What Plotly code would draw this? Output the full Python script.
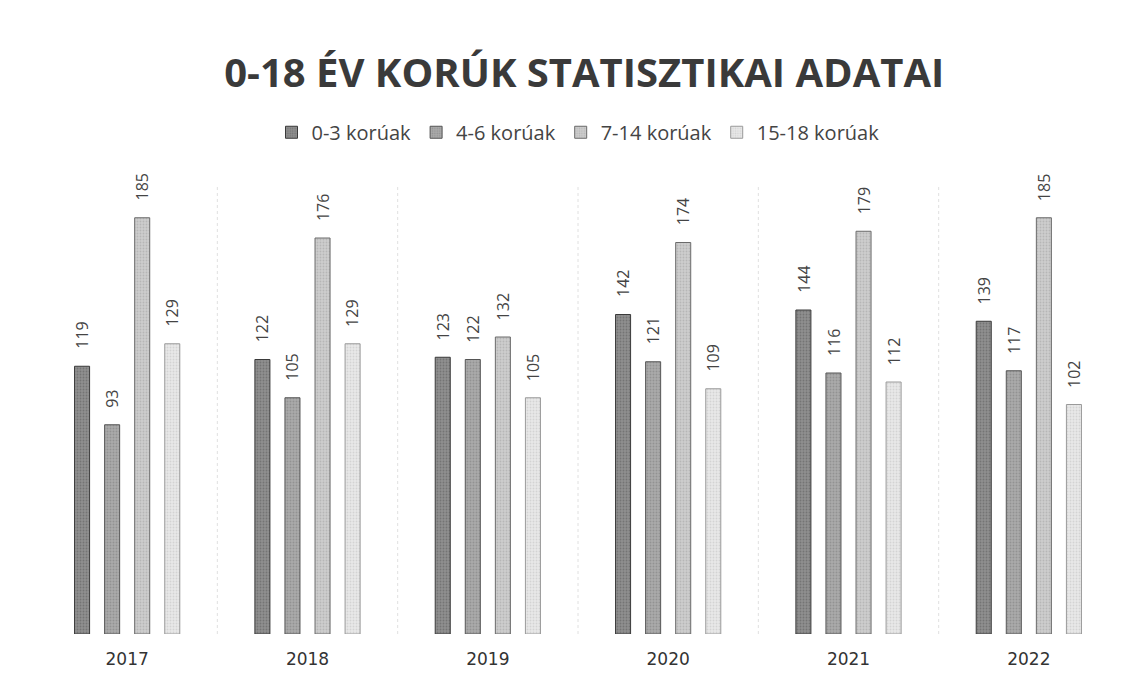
import plotly.graph_objects as go

years = ["2017", "2018", "2019", "2020", "2021", "2022"]
series_names = ["0-3 korúak", "4-6 korúak", "7-14 korúak", "15-18 korúak"]
v_0_3 = [119, 122, 123, 142, 144, 139]
v_4_6 = [93, 105, 122, 121, 116, 117]
v_7_14 = [185, 176, 132, 174, 179, 185]
v_15_18 = [129, 129, 105, 109, 112, 102]

values = [v_0_3, v_4_6, v_7_14, v_15_18]
fills = ["#8f8f8f", "#aaaaaa", "#cdcdcd", "#e8e8e8"]
lines = ["#3a3a3a", "#555555", "#6a6a6a", "#9a9a9a"]
pat_fg = ["#5a5a5a", "#7a7a7a", "#a0a0a0", "#bdbdbd"]

slot_px = 30.1  # horizontal spacing between bars within a group

fig = go.Figure()
for k, (name, vals, fc, lc, pf) in enumerate(zip(series_names, values, fills, lines, pat_fg)):
    fig.add_trace(go.Bar(
        name=name, x=years, y=vals,
        marker=dict(color=fc, line=dict(color=lc, width=1),
                    pattern=dict(shape=".", fgcolor=pf, bgcolor=fc, size=3, solidity=0.3)),
    ))
    for idx, v in enumerate(vals):
        fig.add_annotation(x=idx, y=v, text=str(v), showarrow=False, textangle=-90,
                           xanchor="center", yanchor="bottom",
                           xshift=(k - 1.5) * slot_px, yshift=15,
                           font=dict(family="Open Sans", size=16, color="#444444"))

for i in range(1, len(years)):
    fig.add_shape(type="line", xref="x", yref="paper", x0=i - 0.5, x1=i - 0.5, y0=0, y1=1,
                  line=dict(color="#e0e0e0", width=1, dash="dot"), layer="below")

fig.update_layout(
    width=1141, height=686,
    paper_bgcolor="white", plot_bgcolor="white",
    margin=dict(l=29, r=30, t=176, b=60),
    title=dict(text="<b>0-18 ÉV KORÚK STATISZTIKAI ADATAI</b>", x=0.505, xanchor="center",
               y=0.905, yanchor="middle",
               font=dict(family="Open Sans", size=40, color="#3a3a3a")),
    legend=dict(orientation="h", x=0.5, xanchor="center", y=1.115, yanchor="middle",
                font=dict(family="Open Sans", size=20, color="#444444"),
                itemwidth=30, traceorder="normal"),
    barmode="group", bargap=0.333, bargroupgap=0.5,
    showlegend=True,
)
fig.update_xaxes(type="category", range=[-0.5, len(years) - 0.5],
                 showgrid=False, showline=False, zeroline=False, ticks="",
                 ticklabelstandoff=13,
                 tickfont=dict(family="DejaVu Sans", size=17, color="#333333"))
fig.update_yaxes(range=[0, 200], visible=False, showgrid=False)

fig.write_html("out.html")
